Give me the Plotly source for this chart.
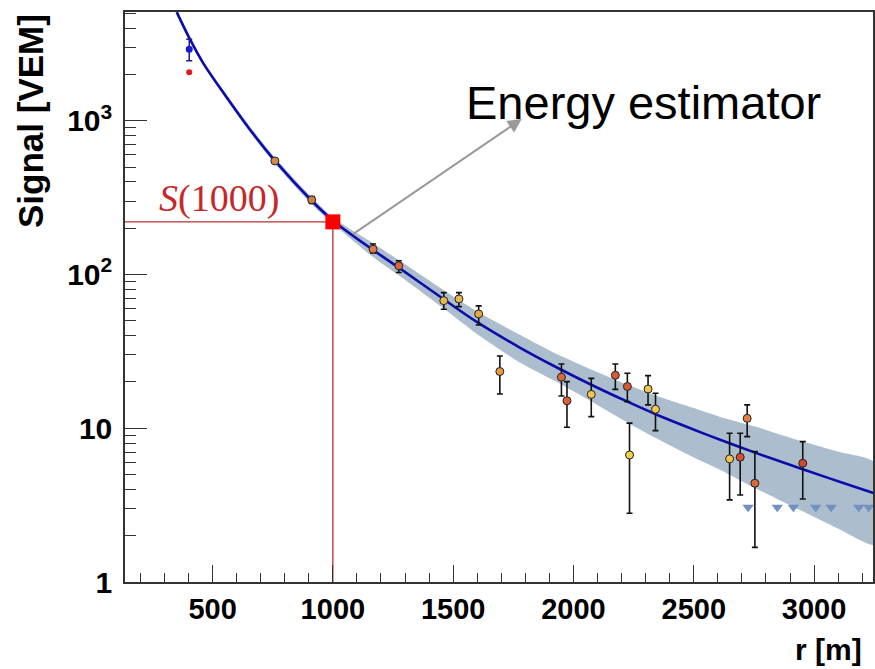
import numpy as np
import plotly.graph_objects as go

# ---------------- data ----------------
# fitted lateral distribution function
CURVE_R = [351, 406, 461, 559, 648, 759, 912, 1001, 1167, 1271, 1458, 1603,
           1777, 1915, 2074, 2220, 2344, 2496, 2607, 2752, 2953, 3106, 3250]
CURVE_S = [5093, 3388, 2371, 1419, 908, 550, 302, 224, 144.5, 111.7, 69.5,
           48.6, 33.5, 25.6, 19.2, 15.0, 12.3, 9.86, 8.45, 6.97, 5.41, 4.49,
           3.78]

# uncertainty band of the fit
BAND_R = [351, 461, 559, 669, 759, 912, 1001, 1167, 1271, 1458, 1603, 1777,
          1915, 2026, 2220, 2344, 2496, 2607, 2752, 2953, 3106, 3250]
BAND_HI = [5245, 2442, 1470, 860, 575, 318, 234, 160, 125, 79.5, 57.0, 40.5,
           31.2, 26.0, 19.3, 16.3, 13.6, 11.9, 10.3, 8.2, 7.0, 6.0]
BAND_LO = [4940, 2300, 1370, 790, 526, 287, 214, 130, 99.5, 60.5, 40.6, 26.8,
           20.6, 16.5, 11.0, 8.6, 6.5, 5.4, 4.1, 2.88, 2.2, 1.75]

# station signals
PTS_R = [759, 912, 1167, 1274, 1461, 1524, 1606, 1694, 1950, 1973, 2074,
         2174, 2224, 2233, 2310, 2341, 2649, 2693, 2722, 2754, 2953]
PTS_S = [548, 306, 146, 114, 67.6, 69.4, 55.4, 23.4, 21.5, 15.1, 16.6,
         22.1, 18.7, 6.7, 18.0, 13.3, 6.32, 6.48, 11.6, 4.39, 5.92]
PTS_HI = [560, 322, 158, 123, 76.3, 76.3, 62.5, 29.5, 26.2, 20.1, 21.1,
          26.2, 22.8, 10.8, 22.0, 16.9, 9.28, 9.28, 14.2, 7.05, 8.18]
PTS_LO = [536, 290, 138, 103, 59.5, 61.8, 47.0, 16.7, 16.2, 10.15, 11.9,
          17.9, 14.9, 2.8, 14.2, 9.65, 3.42, 3.68, 8.82, 1.68, 3.47]

# stations close to the core (saturated)
NEAR_R = [403]
NEAR_BLUE_S = [2924]
NEAR_BLUE_HI = [3396]
NEAR_BLUE_LO = [2454]
NEAR_RED_S = [2071]

# silent stations
ZERO_R = [2726, 2847, 2914, 3007, 3071, 3186, 3227]
ZERO_S = [3.06, 3.06, 3.06, 3.06, 3.06, 3.06, 3.06]

# energy estimator
R_OPT = 1000
S1000 = 220

X_TICKS = [500, 1000, 1500, 2000, 2500, 3000]
X_MINOR = [200, 300, 400, 600, 700, 800, 900, 1100, 1200, 1300, 1400, 1600,
           1700, 1800, 1900, 2100, 2200, 2300, 2400, 2600, 2700, 2800, 2900,
           3100, 3200]
Y_TICKS = [1, 10, 100, 1000]
Y_TICKTEXT = ["1", "10", "10<sup>2</sup>", "10<sup>3</sup>"]
Y_MINOR = [m * d for d in (1, 10, 100, 1000) for m in range(2, 10)]

X_RANGE = [136, 3245]
Y_RANGE = [1, 5100]

# ---------------- styles ----------------
POINT_COLORS = ["#d4884a", "#c8804a", "#e07848", "#d86838", "#eab84a",
                "#eab84a", "#e8a845", "#e29a45", "#d86a3a", "#d8623a",
                "#f0c44a", "#d85a35", "#d85a35", "#f2d24a", "#f0c44a",
                "#f0c84a", "#f0c44a", "#d8502f", "#e08040", "#d86a3a",
                "#d04a30"]

fig = go.Figure()

# band
fig.add_trace(go.Scatter(
    x=BAND_R + BAND_R[::-1], y=BAND_HI + BAND_LO[::-1],
    fill="toself", fillcolor="rgb(172,190,206)",
    line=dict(width=0, shape="spline", smoothing=0.6),
    mode="lines", hoverinfo="skip", showlegend=False))

# red S(1000) guide lines
fig.add_trace(go.Scatter(x=[X_RANGE[0] - 50, R_OPT], y=[S1000, S1000],
                         mode="lines", line=dict(color="#b83232", width=1.3),
                         showlegend=False))
fig.add_trace(go.Scatter(x=[R_OPT, R_OPT], y=[0.5, S1000],
                         mode="lines", line=dict(color="#b83232", width=1.3),
                         showlegend=False))

# fitted curve
fig.add_trace(go.Scatter(x=CURVE_R, y=CURVE_S, mode="lines",
                         line=dict(color="#0c0caa", width=2.6, shape="spline",
                                   smoothing=1.0),
                         showlegend=False))

# station points
err_up = [h - s for h, s in zip(PTS_HI, PTS_S)]
err_dn = [s - l for s, l in zip(PTS_S, PTS_LO)]
fig.add_trace(go.Scatter(
    x=PTS_R, y=PTS_S, mode="markers",
    marker=dict(size=8, color=POINT_COLORS, symbol="circle",
                line=dict(color="#222222", width=1)),
    error_y=dict(type="data", symmetric=False, array=err_up, arrayminus=err_dn,
                 color="#111111", thickness=1.6, width=3),
    showlegend=False))

# saturated station
fig.add_trace(go.Scatter(
    x=NEAR_R, y=NEAR_BLUE_S, mode="markers",
    marker=dict(size=7, color="#1a1ad0", symbol="circle"),
    error_y=dict(type="data", symmetric=False,
                 array=[NEAR_BLUE_HI[0] - NEAR_BLUE_S[0]],
                 arrayminus=[NEAR_BLUE_S[0] - NEAR_BLUE_LO[0]],
                 color="#1a1a90", thickness=1.5, width=3),
    showlegend=False))
fig.add_trace(go.Scatter(x=NEAR_R, y=NEAR_RED_S, mode="markers",
                         marker=dict(size=6, color="#e01818", symbol="circle"),
                         showlegend=False))

# silent stations
fig.add_trace(go.Scatter(x=ZERO_R, y=ZERO_S, mode="markers",
                         marker=dict(size=10, color="#7390c4",
                                     symbol="triangle-down"),
                         showlegend=False))

# S(1000) marker
fig.add_trace(go.Scatter(x=[R_OPT], y=[S1000], mode="markers",
                         marker=dict(size=15, color="#ff0000", symbol="square"),
                         showlegend=False))

# annotations
fig.add_annotation(x=784, y=np.log10(S1000),
                   xref="x", yref="y", xanchor="right", yanchor="bottom",
                   yshift=0,
                   text="<i>S</i>(1000)", showarrow=False,
                   font=dict(family="Liberation Serif", size=38, color="#c62828"))

fig.add_annotation(x=1785, y=3.012, ax=1079, ay=2.258,
                   xref="x", yref="y", axref="x", ayref="y",
                   text="", showarrow=True, arrowhead=2, arrowsize=1.4,
                   arrowwidth=2, arrowcolor="#999999")

fig.add_annotation(x=2290, y=3.117, xref="x", yref="y",
                   text="Energy estimator", showarrow=False,
                   xanchor="center", yanchor="middle",
                   font=dict(family="Liberation Sans", size=47, color="#000000"))

fig.add_annotation(x=-0.127, y=1.0, xref="paper", yref="paper",
                   text="<b>Signal [VEM]</b>", textangle=-90, showarrow=False,
                   xanchor="center", yanchor="top",
                   font=dict(family="Liberation Sans", size=35, color="#000000"))

fig.add_annotation(x=0.988, y=-0.119, xref="paper", yref="paper",
                   text="<b>r [m]</b>", showarrow=False,
                   xanchor="right", yanchor="middle",
                   font=dict(family="Liberation Sans Narrow, Liberation Sans",
                             size=30, color="#000000"))

fig.update_xaxes(
    range=X_RANGE, showgrid=False, zeroline=False, automargin=False,
    showline=True, linecolor="#333333", linewidth=1.5, mirror=True,
    tickmode="array", tickvals=X_TICKS, ticks="inside", ticklen=17,
    tickwidth=1, tickcolor="#333333",
    minor=dict(tickmode="array", tickvals=X_MINOR, ticks="inside", ticklen=9,
               tickwidth=1, tickcolor="#333333"),
    tickfont=dict(family="Liberation Sans Narrow, Liberation Sans", size=29,
                  color="#000000", weight="bold"),
    ticklabelstandoff=0)

fig.update_yaxes(
    type="log", range=[np.log10(Y_RANGE[0]), np.log10(Y_RANGE[1])],
    showgrid=False, zeroline=False, automargin=False,
    showline=True, linecolor="#333333", linewidth=1.5, mirror=True,
    tickmode="array", tickvals=Y_TICKS, ticktext=Y_TICKTEXT,
    ticks="inside", ticklen=22, tickwidth=1, tickcolor="#333333",
    minor=dict(tickmode="array", tickvals=Y_MINOR, ticks="inside", ticklen=11,
               tickwidth=1, tickcolor="#333333"),
    tickfont=dict(family="Liberation Sans", size=30, color="#000000",
                  weight="bold"),
    ticklabelstandoff=5)

fig.update_layout(
    width=875, height=669, autosize=False,
    margin=dict(l=125, r=2, t=12, b=87),
    paper_bgcolor="white", plot_bgcolor="white",
    showlegend=False)

fig.write_html(
    "out.html",
    config={"displayModeBar": False},
    post_script="document.body.style.margin='0';"
                "document.body.style.overflow='hidden';")
